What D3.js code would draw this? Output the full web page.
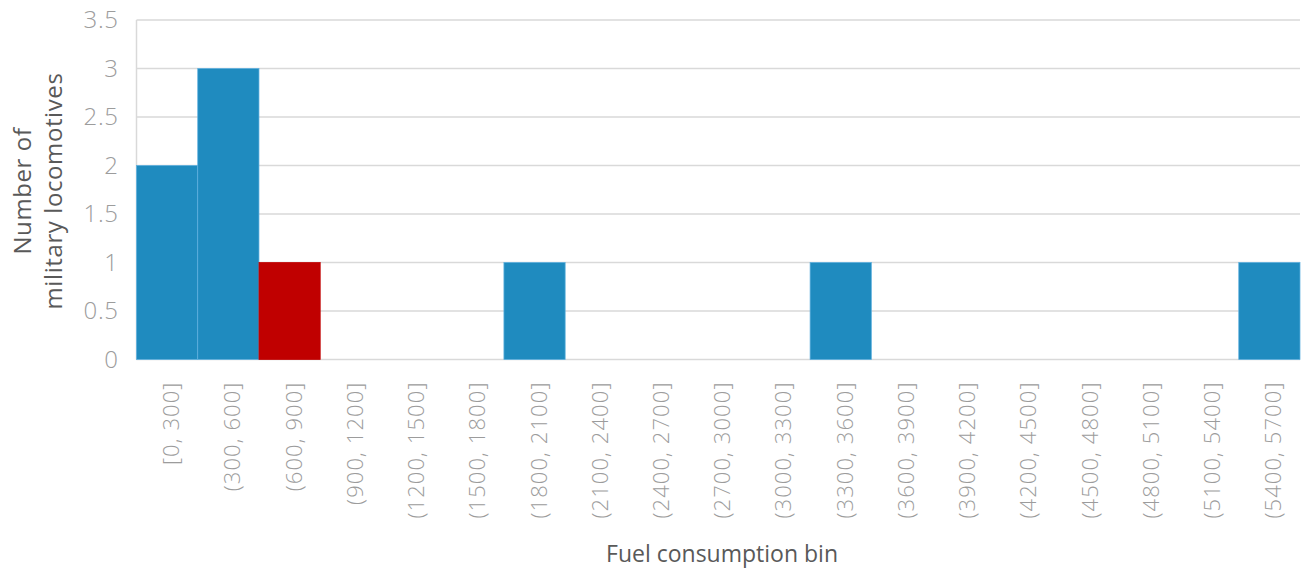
<!DOCTYPE html>
<html>
<head>
<meta charset="utf-8">
<script src="https://cdn.jsdelivr.net/npm/d3@7"></script>
<style>
  html, body { margin: 0; padding: 0; background: #fff; }
  svg { display: block; font-family: "Open Sans", "Lato", sans-serif; }
</style>
</head>
<body>
<svg id="chart" width="1304" height="570"></svg>
<script>
// Fuel consumption bins and locomotive counts
const bins = ["[0, 300]", "(300, 600]", "(600, 900]", "(900, 1200]", "(1200, 1500]",
  "(1500, 1800]", "(1800, 2100]", "(2100, 2400]", "(2400, 2700]", "(2700, 3000]",
  "(3000, 3300]", "(3300, 3600]", "(3600, 3900]", "(3900, 4200]", "(4200, 4500]",
  "(4500, 4800]", "(4800, 5100]", "(5100, 5400]", "(5400, 5700]"];
const counts = [2, 3, 1, 0, 0, 0, 1, 0, 0, 0, 0, 1, 0, 0, 0, 0, 0, 0, 1];
const highlighted = ["(600, 900]"];
const yTicks = [0, 0.5, 1, 1.5, 2, 2.5, 3, 3.5];

const svg = d3.select("#chart");
const margin = { left: 136.5, right: 4, top: 20, bottom: 210.5 };
const W = 1304, H = 570;

const x = d3.scaleBand().domain(bins).range([margin.left, W - margin.right]).padding(0);
const y = d3.scaleLinear().domain([0, 3.5]).range([H - margin.bottom, margin.top]);

// horizontal gridlines
svg.append("g").selectAll("line").data(yTicks).join("line")
  .attr("x1", margin.left).attr("x2", W - margin.right)
  .attr("y1", d => y(d)).attr("y2", d => y(d))
  .attr("stroke", "#d9d9d9").attr("stroke-width", 1.5);

// left axis line
svg.append("line")
  .attr("x1", margin.left).attr("x2", margin.left)
  .attr("y1", y(3.5)).attr("y2", y(0))
  .attr("stroke", "#d9d9d9").attr("stroke-width", 1.5);

// bars
svg.append("g").selectAll("rect").data(bins.map((b, i) => ({ bin: b, count: counts[i] })).filter(d => d.count > 0))
  .join("rect")
  .attr("x", d => x(d.bin))
  .attr("width", x.bandwidth())
  .attr("y", d => y(d.count))
  .attr("height", d => y(0) - y(d.count))
  .attr("fill", d => highlighted.includes(d.bin) ? "#c00000" : "#1f8bbf")
  .attr("stroke", d => highlighted.includes(d.bin) ? "#c00000" : "#5fb0de")
  .attr("stroke-width", 0.75);

// y axis tick labels
const yAxis = d3.axisLeft(y).tickValues(yTicks).tickSize(0).tickPadding(18)
  .tickFormat(d => String(d));
svg.append("g").attr("transform", `translate(${margin.left},0)`).call(yAxis)
  .call(g => g.select(".domain").remove())
  .selectAll("text")
  .attr("font-family", "'Open Sans', sans-serif")
  .attr("font-weight", 300)
  .attr("font-size", 24)
  .attr("letter-spacing", 0.6)
  .attr("fill", "#9c9c9c");

// x axis tick labels, rotated
const xAxis = d3.axisBottom(x).tickSize(0).tickPadding(0);
svg.append("g").attr("transform", `translate(0,${y(0)})`).call(xAxis)
  .call(g => g.select(".domain").remove())
  .selectAll("text")
  .attr("font-family", "'Open Sans', sans-serif")
  .attr("font-weight", 300)
  .attr("font-size", 22)
  .attr("letter-spacing", 1.1)
  .attr("fill", "#9c9c9c")
  .attr("text-anchor", "end")
  .attr("dy", null)
  .attr("dominant-baseline", "central")
  .attr("transform", "translate(3,22) rotate(-90)");

// axis titles
svg.append("text")
  .attr("x", 722).attr("y", 562)
  .attr("text-anchor", "middle")
  .attr("font-size", 23)
  .attr("fill", "#595959")
  .text("Fuel consumption bin");

const yt = svg.append("text")
  .attr("transform", `translate(0,191) rotate(-90)`)
  .attr("text-anchor", "middle")
  .attr("font-size", 24)
  .attr("letter-spacing", 0.6)
  .attr("fill", "#595959");
yt.append("tspan").attr("x", 0).attr("y", 31).text("Number of");
yt.append("tspan").attr("x", 0).attr("y", 62).text("military locomotives");
</script>
</body>
</html>
